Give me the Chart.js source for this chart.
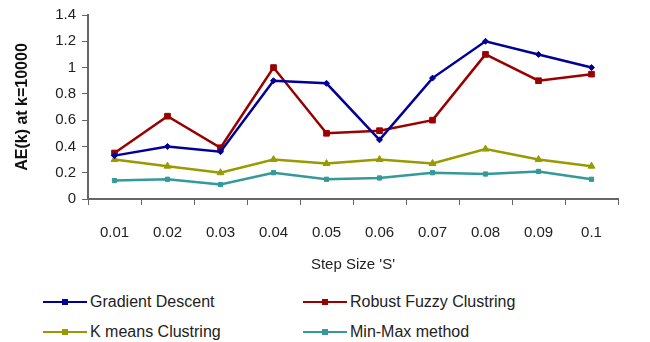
<!DOCTYPE html>
<html>
<head>
<meta charset="utf-8">
<script src="https://cdn.jsdelivr.net/npm/chart.js@4/dist/chart.umd.min.js"></script>
<style>
  body { margin: 0; background: #fff; font-family: "Liberation Sans", Arial, sans-serif; }
  #wrap { position: relative; width: 650px; height: 342px; }
  #chart { position: absolute; left: 0; top: 0; }
  .leg { position: absolute; font-size: 16px; color: #222; white-space: nowrap; height: 20px; line-height: 20px; }
  .leg .ln { position: absolute; left: 0; top: 9px; width: 44px; height: 2px; }
  .leg .mk { position: absolute; left: 19px; top: 7px; width: 6px; height: 6px; }
  .leg .tx { position: absolute; left: 47px; top: 0; }
</style>
</head>
<body>
<div id="wrap">
  <canvas id="chart" width="650" height="278"></canvas>
  <div id="legend"></div>
</div>
<script>
var stepSizes = ['0.01', '0.02', '0.03', '0.04', '0.05', '0.06', '0.07', '0.08', '0.09', '0.1'];
var gradientDescent = [0.33, 0.40, 0.36, 0.90, 0.88, 0.45, 0.92, 1.20, 1.10, 1.00];
var robustFuzzy = [0.35, 0.63, 0.39, 1.00, 0.50, 0.52, 0.60, 1.10, 0.90, 0.95];
var kMeans = [0.30, 0.25, 0.20, 0.30, 0.27, 0.30, 0.27, 0.38, 0.30, 0.25];
var minMax = [0.14, 0.15, 0.11, 0.20, 0.15, 0.16, 0.20, 0.19, 0.21, 0.15];

var series = [
    {label: 'Gradient Descent', data: gradientDescent, color: '#000099', point: 'rectRot', r: 3},
    {label: 'Robust Fuzzy Clustring', data: robustFuzzy, color: '#990000', point: 'rect', r: 4},
    {label: 'K means Clustring', data: kMeans, color: '#999900', point: 'triangle', r: 4},
    {label: 'Min-Max method', data: minMax, color: '#339999', point: 'rect', r: 3}
];

var font = {family: '"Liberation Sans", Arial, sans-serif', size: 15};

var ctx = document.getElementById('chart').getContext('2d');
var myChart = new Chart(ctx, {
    type: 'line',
    data: {
        labels: stepSizes,
        datasets: series.map(function (s) {
            return {
                label: s.label,
                data: s.data,
                borderColor: s.color,
                backgroundColor: s.color,
                borderWidth: 2.5,
                pointStyle: s.point,
                pointRadius: s.r,
                pointBorderWidth: 1,
                tension: 0
            };
        })
    },
    options: {
        responsive: false,
        animation: false,
        layout: {padding: {top: 13, right: 32, left: 0, bottom: 0}},
        plugins: {legend: {display: false}, tooltip: {enabled: false}},
        scales: {
            x: {
                offset: true,
                grid: {offset: true, drawOnChartArea: false, color: '#666', tickLength: 6, tickColor: '#666'},
                border: {color: '#666', width: 2},
                ticks: {color: '#222', font: font, padding: 19, maxRotation: 0},
                title: {display: true, text: "Step Size 'S'", color: '#222', font: font, padding: {top: 0, bottom: 4}},
                afterFit: function (s) { s.height = 79; }
            },
            y: {
                min: 0,
                max: 1.4,
                ticks: {stepSize: 0.2, color: '#222', font: font, padding: 6,
                    callback: function (v) { return Math.round(v * 10) / 10; }},
                grid: {drawOnChartArea: false, color: '#666', tickLength: 6, tickColor: '#666'},
                border: {color: '#666', width: 2},
                title: {display: true, text: 'AE(k) at k=10000', color: '#111',
                    font: {family: font.family, size: 16, weight: 'bold'}, padding: {top: 13, bottom: 0}},
                afterFit: function (s) { s.width = 88; }
            }
        }
    }
});

// legend in two columns under the chart
var legendPos = [[43, 292], [303, 292], [43, 322], [303, 322]];
var legendHtml = '';
series.forEach(function (s, i) {
    legendHtml += '<div class="leg" style="left:' + legendPos[i][0] + 'px;top:' + legendPos[i][1] + 'px">' +
        '<span class="ln" style="background:' + s.color + '"></span>' +
        '<span class="mk" style="background:' + s.color + '"></span>' +
        '<span class="tx">' + s.label + '</span></div>';
});
document.getElementById('legend').innerHTML = legendHtml;
</script>
</body>
</html>
